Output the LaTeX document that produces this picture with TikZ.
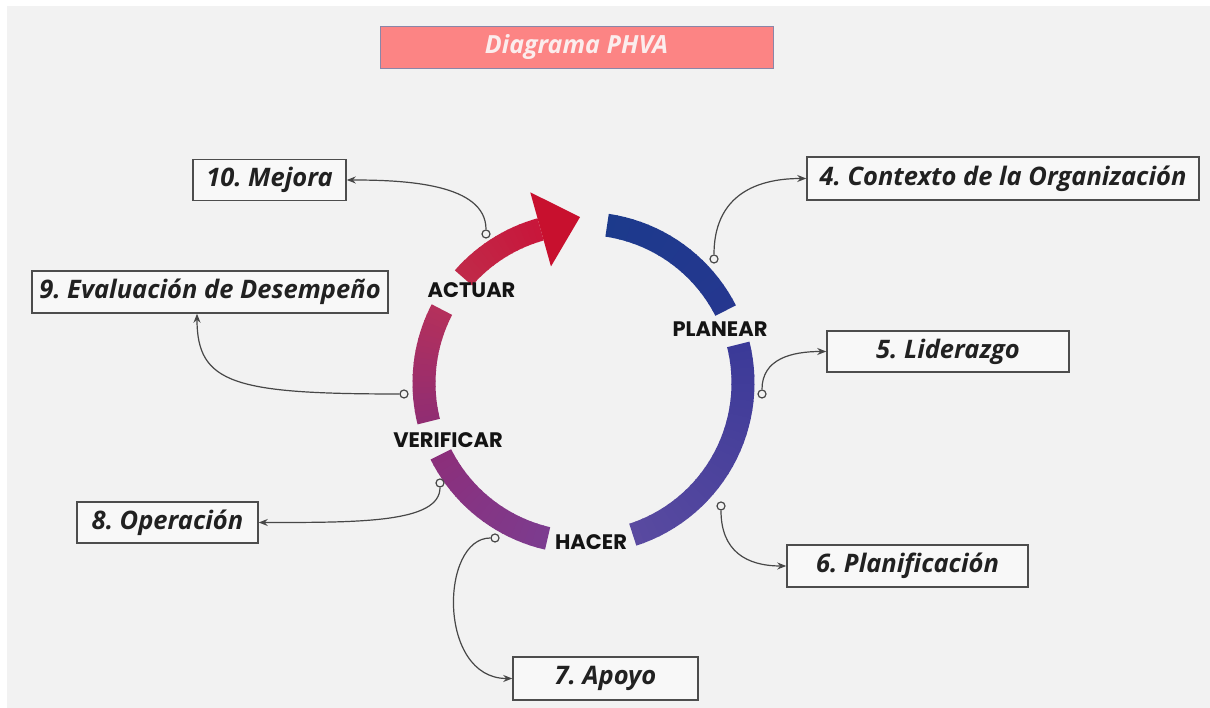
\documentclass[tikz,border=0pt]{standalone}
\usepackage{fontspec}
\newfontfamily\boxfont{Open Sans}
\newfontfamily\ringfont{Poppins}
\usetikzlibrary{arrows.meta}
\frenchspacing

\definecolor{bgray}{HTML}{F2F2F2}
\definecolor{boxfill}{HTML}{F8F8F8}
\definecolor{boxline}{HTML}{4D4D4D}
\definecolor{wire}{HTML}{474747}
\definecolor{titlefill}{HTML}{FC8484}
\definecolor{titleline}{HTML}{8A86A8}
\definecolor{titletext}{HTML}{FBEDED}
\definecolor{planA}{HTML}{1C3A8C}
\definecolor{planB}{HTML}{25378F}
\definecolor{doA}{HTML}{3B3A98}
\definecolor{doB}{HTML}{5A4AA0}
\definecolor{chkA}{HTML}{7C3C8F}
\definecolor{chkB}{HTML}{8C2F7B}
\definecolor{verA}{HTML}{902D73}
\definecolor{verB}{HTML}{B5305B}
\definecolor{actA}{HTML}{C02A4A}
\definecolor{actB}{HTML}{C8163A}
\definecolor{headred}{HTML}{C8102E}

% annular band from angle #1 to #2, shaded from colour #3 to #4 in #5 steps
\newcommand{\ringband}[5]{%
  \foreach \k in {1,...,#5}{%
    \pgfmathsetmacro\aa{#1+(#2-#1)*(\k-1)/#5}%
    \pgfmathsetmacro\ab{#1+(#2-#1)*\k/#5+sign(#2-#1)*0.4*(\k<#5)}%
    \pgfmathsetmacro\pc{100*(\k-0.5)/#5}%
    \fill[#4!\pc!#3] (\aa:148pt) arc[start angle=\aa, end angle=\ab, radius=148pt]
      -- (\ab:171pt) arc[start angle=\ab, end angle=\aa, radius=171pt] -- cycle;
  }%
}

\tikzset{
  itembox/.style={draw=boxline, line width=1.5pt, fill=boxfill, text=black!87,
    font=\boxfont\bfseries\itshape\fontsize{25.5}{30}\selectfont, inner sep=0pt},
  phase/.style={font=\ringfont\bfseries\fontsize{21}{24}\selectfont, text=black!92, inner sep=0pt},
  link/.style={draw=wire, line width=1.2pt, -{Stealth[length=9pt,width=7pt]}},
  port/.style={circle, draw=wire, line width=1.2pt, fill=bgray, minimum size=8pt, inner sep=0pt},
}

\begin{document}
\begin{tikzpicture}[x=1pt, y=1pt]
\useasboundingbox (0,0) rectangle (1210,708);
\fill[white] (0,0) rectangle (1210,708);
\fill[bgray] (7,0) rectangle (1210,702);

% title
\node[draw=titleline, line width=1pt, fill=titlefill, text=titletext,
  minimum width=393pt, minimum height=42pt, inner sep=0pt,
  font=\boxfont\bfseries\itshape\fontsize{25}{29}\selectfont] (title) at (576.5,660.5) {Diagrama PHVA};

% PHVA ring
\begin{scope}[shift={(583.5,325)}]
  \ringband{81.5}{27}{planA}{planB}{20}
  \ringband{14}{-72}{doA}{doB}{30}
  \ringband{257}{206.6}{chkA}{chkB}{20}
  \ringband{194}{152.6}{verA}{verB}{20}
  \ringband{138.8}{105.6}{actA}{actB}{15}
  \fill[headred] (105.6:121pt) -- (91.2:166pt) -- (105.6:198pt) -- cycle;
\end{scope}

\node[phase] (act) at (471.5,418) {ACTUAR};
\node[phase] (plan) at (720,379) {PLANEAR};
\node[phase] (ver) at (448,268) {VERIFICAR};
\node[phase] (hac) at (591,165.5) {HACER};

% clause boxes
\node[itembox, minimum width=392pt, minimum height=43pt] (n4) at (1003,529.5) {4. Contexto de la Organización};
\node[itembox, minimum width=153pt, minimum height=41pt] (n10) at (269.5,528) {10. Mejora};
\node[itembox, minimum width=356pt, minimum height=42pt] (n9) at (210,416) {9. Evaluación de Desempeño};
\node[itembox, minimum width=242pt, minimum height=41pt] (n5) at (948,356.5) {5. Liderazgo};
\node[itembox, minimum width=181pt, minimum height=41pt] (n8) at (167.5,185.5) {8. Operación};
\node[itembox, minimum width=241pt, minimum height=42pt] (n6) at (907.5,142) {6. Planificación};
\node[itembox, minimum width=185pt, minimum height=43pt] (n7) at (605.5,29.5) {7. Apoyo};

% ports on the ring
\node[port] (c4) at (714,449) {};
\node[port] (c10) at (486,474) {};
\node[port] (c9) at (404,314) {};
\node[port] (c5) at (762,314) {};
\node[port] (c8) at (440,225) {};
\node[port] (c6) at (721,202) {};
\node[port] (c7) at (495,170) {};

\coordinate (e9) at ([xshift=-13pt]n9.south);

% connectors
\draw[link] (c4) .. controls +(0,60) and +(-55,0) .. (n4.west);
\draw[link] (c10) .. controls +(0,50) and +(60,0) .. (n10.east);
\draw[link] (c9) .. controls +(-170,0) and +(0,-70) .. (e9);
\draw[link] (c5) .. controls +(0,35) and +(-35,0) .. (n5.west);
\draw[link] (c8) .. controls +(0,-40) and +(100,0) .. (n8.east);
\draw[link] (c6) .. controls +(0,-45) and +(-40,0) .. (n6.west);
\draw[link] (c7) .. controls +(-55,0) and +(-75,0) .. (n7.west);
\end{tikzpicture}
\end{document}
